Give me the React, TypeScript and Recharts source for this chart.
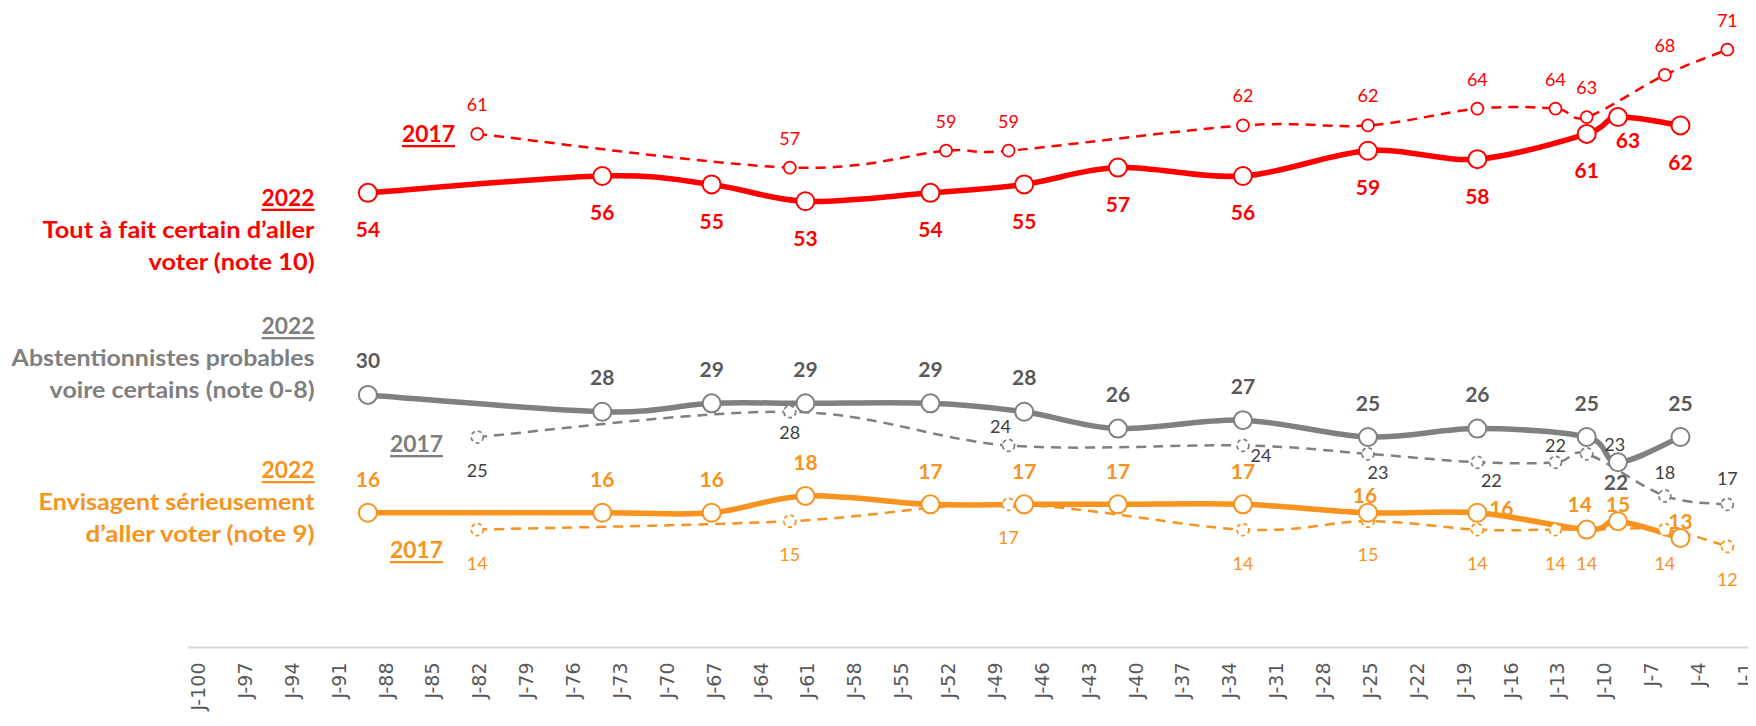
import React from 'react';
import { LineChart, Line, XAxis, YAxis } from 'recharts';

// ---- Data ----
const days2022 = [-89, -74, -67, -61, -53, -47, -41, -33, -25, -18, -11, -9, -5];
const certain2022 = [54, 56, 55, 53, 54, 55, 57, 56, 59, 58, 61, 63, 62];
const abst2022 = [30, 28, 29, 29, 29, 28, 26, 27, 25, 26, 25, 22, 25];
const envis2022 = [16, 16, 16, 18, 17, 17, 17, 17, 16, 16, 14, 15, 13];

const daysCertain2017 = [-82, -62, -52, -48, -33, -25, -18, -13, -11, -6, -2];
const certain2017 = [61, 57, 59, 59, 62, 62, 64, 64, 63, 68, 71];
const days2017 = [-82, -62, -48, -33, -25, -18, -13, -11, -6, -2];
const abst2017 = [25, 28, 24, 24, 23, 22, 22, 23, 18, 17];
const envis2017 = [14, 15, 17, 14, 15, 14, 14, 14, 14, 12];

const tickDays = [-100, -97, -94, -91, -88, -85, -82, -79, -76, -73, -70, -67, -64, -61, -58, -55, -52, -49, -46, -43, -40, -37, -34, -31, -28, -25, -22, -19, -16, -13, -10, -7, -4, -1];

const legendRed = ['2022', 'Tout à fait certain d’aller', 'voter (note 10)'];
const legendGray = ['2022', 'Abstentionnistes probables', 'voire certains (note 0-8)'];
const legendOrange = ['2022', 'Envisagent sérieusement', 'd’aller voter (note 9)'];
const legend2017 = '2017';

// ---- Styles ----
const RED = '#FF0000';
const GRAY = '#808080';
const GRAY_TXT = '#7F7F7F';
const GRAY_LBL = '#595959';
const GRAY_LBL17 = '#404040';
const ORANGE = '#F7931E';
const FONT = 'Lato, "Open Sans", sans-serif';

// widths of the legend lines (px) to mimic the original narrow font
const widthsRed = [53, 272, 166];
const widthsGray = [53, 303, 265];
const widthsOrange = [53, 276, 229];

const build = (days: number[], vals: number[]) => days.map((d, i) => ({ day: d, v: vals[i] }));

// Excel-like smoothing (Catmull-Rom as cubic Bezier)
const excelCurve = (context: any) => {
  let pts: number[][] = [];
  return {
    areaStart() {},
    areaEnd() {},
    lineStart() { pts = []; },
    point(x: number, y: number) { pts.push([+x, +y]); },
    lineEnd() {
      const n = pts.length;
      if (!n) return;
      context.moveTo(pts[0][0], pts[0][1]);
      const t = 1 / 6;
      for (let i = 0; i < n - 1; i++) {
        const p0 = pts[i - 1] || pts[i];
        const p1 = pts[i];
        const p2 = pts[i + 1];
        const p3 = pts[i + 2] || p2;
        context.bezierCurveTo(
          p1[0] + (p2[0] - p0[0]) * t, p1[1] + (p2[1] - p0[1]) * t,
          p2[0] - (p3[0] - p1[0]) * t, p2[1] - (p3[1] - p1[1]) * t,
          p2[0], p2[1]
        );
      }
    },
  };
};

type Cfg = {
  id: string; days: number[]; vals: number[]; color: string; r: number; sw: number;
  dash?: string; lblColor: string; bold: boolean; fs: number;
  def: number[]; off: Record<number, number[]>;
};

const makeDot = (c: Cfg) => (props: any) => {
  const { cx, cy, index } = props;
  if (cx == null || cy == null) return <g key={`${c.id}-e-${index}`} />;
  const day = c.days[index];
  const o = c.off[day] || c.def;
  return (
    <g key={`${c.id}-${index}`}>
      <circle cx={cx} cy={cy} r={c.r} fill="#fff" stroke={c.color} strokeWidth={c.sw} strokeDasharray={c.dash} />
      <text x={cx + o[0]} y={cy + o[1]} textAnchor="middle" dominantBaseline="central" fill={c.lblColor}
        fontSize={c.fs} fontWeight={c.bold ? 700 : 400} fontFamily={FONT}>{c.vals[index]}</text>
    </g>
  );
};

const cRed22: Cfg = { id: 'r22', days: days2022, vals: certain2022, color: RED, r: 9, sw: 2, lblColor: RED, bold: true, fs: 21, def: [0, 36], off: { [-9]: [10, 22] } };
const cRed17: Cfg = { id: 'r17', days: daysCertain2017, vals: certain2017, color: RED, r: 6, sw: 1.75, lblColor: RED, bold: false, fs: 18, def: [0, -30], off: {} };
const cGray22: Cfg = { id: 'g22', days: days2022, vals: abst2022, color: GRAY, r: 9, sw: 2, lblColor: GRAY_LBL, bold: true, fs: 21, def: [0, -35], off: { [-9]: [-2, 19] } };
const cGray17: Cfg = {
  id: 'g17', days: days2017, vals: abst2017, color: GRAY, r: 6, sw: 1.75, dash: '4 3', lblColor: GRAY_LBL17, bold: false, fs: 18, def: [0, 33],
  off: { [-62]: [0, 20], [-48]: [-8, -19], [-33]: [18, 10], [-25]: [10, 18], [-18]: [14, 18], [-13]: [0, -17], [-11]: [28, -10], [-6]: [0, -24], [-2]: [0, -26] },
};
const cOr22: Cfg = {
  id: 'o22', days: days2022, vals: envis2022, color: ORANGE, r: 9, sw: 2, lblColor: ORANGE, bold: true, fs: 21, def: [0, -34],
  off: { [-25]: [-3, -18], [-18]: [24, -5], [-11]: [-7, -26], [-9]: [0, -18], [-5]: [0, -18] },
};
const cOr17: Cfg = { id: 'o17', days: days2017, vals: envis2017, color: ORANGE, r: 6, sw: 1.75, dash: '4 3', lblColor: ORANGE, bold: false, fs: 18, def: [0, 33], off: {} };

const AxisTick = (props: any) => {
  const { x, y, payload } = props;
  const tx = x + 2;
  const ty = y + 15;
  return (
    <text x={tx} y={ty} transform={`rotate(-90, ${tx}, ${ty})`} textAnchor="end" dominantBaseline="central"
      fill="#595959" fontSize={19} fontFamily="'DejaVu Sans', Verdana, sans-serif">{`J${payload.value}`}</text>
  );
};

const LegendBlock = ({ lines, widths, color, y0 }: { lines: string[]; widths: number[]; color: string; y0: number }) => (
  <g fontFamily={FONT} fontWeight={700} fontSize={23} fill={color} textAnchor="end">
    {lines.map((t, i) => (
      <text key={i} x={314.6} y={y0 + i * 32} dominantBaseline="central" textLength={widths[i]} lengthAdjust="spacingAndGlyphs"
        style={i === 0 ? { textDecoration: 'underline' } : undefined}>{t}</text>
    ))}
  </g>
);

const Label2017 = ({ x, y, color }: { x: number; y: number; color: string }) => (
  <text x={x} y={y} dominantBaseline="central" fill={color} fontFamily={FONT} fontWeight={700} fontSize={23}
    textAnchor="end" textLength={53} lengthAdjust="spacingAndGlyphs" style={{ textDecoration: 'underline' }}>{legend2017}</text>
);

export default function App() {
  const lineProps = { isAnimationActive: false, dataKey: 'v', type: excelCurve as any, activeDot: false as any };
  return (
    <div style={{ margin: -8, width: 1756, height: 726, position: 'relative', overflow: 'hidden', background: '#fff' }}>
      <LineChart width={1756} height={726} margin={{ top: 16, right: 5.2, bottom: 0, left: 188.2 }}>
        <XAxis dataKey="day" type="number" domain={[-100.5, -0.5]} ticks={tickDays} interval={0}
          height={78.5} tickLine={false} tickSize={0} tickMargin={0} axisLine={{ stroke: '#D9D9D9', strokeWidth: 2 }}
          tick={<AxisTick />} />
        <YAxis hide type="number" domain={[0, 75]} />
        <Line {...lineProps} data={build(daysCertain2017, certain2017)} stroke={RED} strokeWidth={2.5} strokeDasharray="10 7" dot={makeDot(cRed17)} />
        <Line {...lineProps} data={build(days2017, abst2017)} stroke={GRAY} strokeWidth={2.5} strokeDasharray="10 7" dot={makeDot(cGray17)} />
        <Line {...lineProps} data={build(days2017, envis2017)} stroke={ORANGE} strokeWidth={2.5} strokeDasharray="10 7" dot={makeDot(cOr17)} />
        <Line {...lineProps} data={build(days2022, certain2022)} stroke={RED} strokeWidth={5.5} dot={makeDot(cRed22)} />
        <Line {...lineProps} data={build(days2022, abst2022)} stroke={GRAY} strokeWidth={5.5} dot={makeDot(cGray22)} />
        <Line {...lineProps} data={build(days2022, envis2022)} stroke={ORANGE} strokeWidth={5.5} dot={makeDot(cOr22)} />
      </LineChart>
      <svg width={1756} height={726} style={{ position: 'absolute', left: 0, top: 0, pointerEvents: 'none' }}>
        <LegendBlock lines={legendRed} widths={widthsRed} color={RED} y0={196.7} />
        <LegendBlock lines={legendGray} widths={widthsGray} color={GRAY_TXT} y0={325} />
        <LegendBlock lines={legendOrange} widths={widthsOrange} color={ORANGE} y0={469} />
        <Label2017 x={455} y={133} color={RED} />
        <Label2017 x={443} y={443} color={GRAY_TXT} />
        <Label2017 x={443} y={549} color={ORANGE} />
      </svg>
    </div>
  );
}
